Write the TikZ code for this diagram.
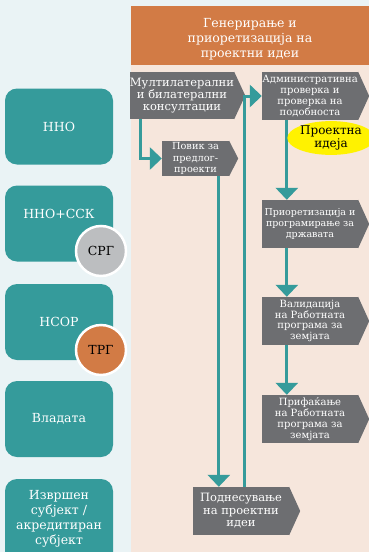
\documentclass[tikz,border=0pt]{standalone}
\usepackage{fontspec}
\setmainfont{DejaVu Serif}
\usetikzlibrary{shapes.geometric,arrows.meta,calc}
\definecolor{bgc}{HTML}{EAF3F5}
\definecolor{peach}{HTML}{F6E6DC}
\definecolor{tealc}{HTML}{359B9B}
\definecolor{orangec}{HTML}{D27B45}
\definecolor{grayc}{HTML}{6D6E71}
\definecolor{lgray}{HTML}{BCBEC0}
\definecolor{yel}{HTML}{FFF200}
\tikzset{
	lb/.style={fill=tealc, rounded corners=12pt, minimum width=108pt, minimum height=76pt},
	lt/.style={text=white, align=center, font=\fontsize{12.5}{15}\selectfont},
	badge/.style={circle, draw=white, line width=2.5pt, minimum size=50pt, inner sep=0pt, font=\fontsize{12.5}{14}\selectfont},
	sg/.style={fill=grayc, text=white, align=center, inner sep=0pt, minimum width=96pt, minimum height=48pt, font=\fontsize{10}{10.8}\selectfont},
	fl/.style={draw=tealc, line width=3pt, -{Triangle[width=22pt,length=12pt]}},
}

\begin{document}
\begin{tikzpicture}[x=1pt,y=-1pt]
	\useasboundingbox (0,0) rectangle (369,552);
	\clip (0,0) rectangle (369,552);
	\fill [bgc] (0,0) rectangle (369,552);
	\fill [peach] (131,6) rectangle (369,552);
	\node [fill=orangec, minimum width=238pt, minimum height=59pt] (head) at (250,35.5) {};
	\node [text=white, align=center, font=\fontsize{12.5}{15}\selectfont] at ($(head)+(0,4)$) {Генерирање и\\приоретизација на\\проектни идеи};

	\node [lb] (nno) at (59,126.5) {};
	\node [lt] at (nno) {ННО};
	\node [lb] (nnossk) at (59,223.5) {};
	\node [lt] at ($(nnossk)+(0,-10)$) {ННО+ССК};
	\node [badge, fill=lgray] (srg) at (101,251) {СРГ};
	\node [lb] (nsor) at (59,322) {};
	\node [lt] at (nsor) {НСОР};
	\node [badge, fill=orangec] (trg) at (101,350) {ТРГ};
	\node [lb] (vlada) at (59,419) {};
	\node [lt] at (vlada) {Владата};
	\node [lb, minimum height=86pt] (izvr) at (59,522) {};
	\node [lt] at ($(izvr)+(0,-3)$) {Извршен\\субјект /\\акредитиран\\субјект};

	\node [sg, minimum width=100pt, minimum height=47pt, font=\fontsize{11.5}{12}\selectfont] (multi) at (182,95.5) {Мултилатерални\\и билатерални\\консултации};
	\node [sg, minimum width=67pt, minimum height=35pt, font=\fontsize{9.8}{11.5}\selectfont] (povik) at (195.5,158.5) {Повик за\\предлог-\\проекти};
	\node [sg, font=\fontsize{10}{11.3}\selectfont] (admin) at (310,96) {Административна\\проверка и\\проверка на\\подобноста};
	\node [sg, font=\fontsize{9.5}{10.8}\selectfont] (prior) at (310,224) {Приоретизација и\\програмирање за\\државата};
	\node [sg] (valid) at (310,321) {Валидација\\на Работната\\програма за\\земјата};
	\node [sg] (prif) at (310,419) {Прифаќање\\на Работната\\програма за\\земјата};
	\node [sg, font=\fontsize{11.5}{12.5}\selectfont] (podn) at (241,511) {Поднесување\\на проектни\\идеи};
	\foreach \n in {multi,admin,prior,valid,prif,podn}
		\fill [grayc] (\n.north east) -- ($(\n.east)+(11,0)$) -- (\n.south east) -- cycle;
	\fill [grayc] (povik.north east) -- ($(povik.east)+(9,0)$) -- (povik.south east) -- cycle;

	\draw [fl] ($(multi.south west)+(11,0)$) |- (povik.west);
	\draw [fl] ($(povik.south west)+(57,0)$) -- ($(podn.north west)+(26,0)$);
	\draw [fl] ($(podn.north west)+(52,0)$) |- (admin.west);
	\draw [fl] ($(admin.south west)+(25,0)$) -- ($(prior.north west)+(25,0)$);
	\draw [fl] ($(prior.south west)+(25,0)$) -- ($(valid.north west)+(25,0)$);
	\draw [fl] ($(valid.south west)+(25,0)$) -- ($(prif.north west)+(25,0)$);

	\node [ellipse, fill=yel, minimum width=70pt, minimum height=32pt, inner sep=0pt, align=center, font=\fontsize{12}{12.5}\selectfont] (idea) at (331,138) {Проектна\\идеја};
\end{tikzpicture}
\end{document}
